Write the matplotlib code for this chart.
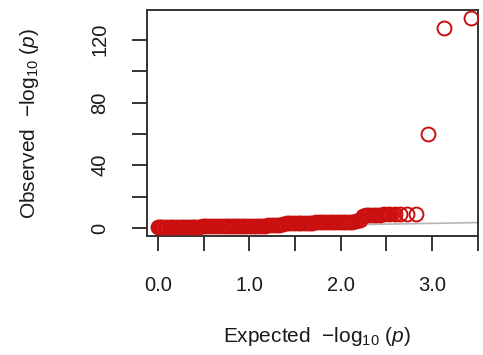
import matplotlib
matplotlib.use("Agg")
import matplotlib.pyplot as plt

# QQ plot values (expected vs observed -log10 p)
expected = [3.43, 3.13, 2.96, 2.83, 2.73, 2.65, 2.59, 2.53, 2.48, 2.43, 2.39,
            2.35, 2.31, 2.28, 2.25, 2.21, 2.17, 2.13, 2.09, 2.05, 2.01, 1.97,
            1.93, 1.89, 1.85, 1.81, 1.77, 1.73, 1.69, 1.65, 1.61, 1.57, 1.53,
            1.49, 1.45, 1.41, 1.37, 1.33, 1.29, 1.25, 1.21, 1.17, 1.13, 1.09,
            1.05, 1.01, 0.97, 0.93, 0.89, 0.85, 0.81, 0.77, 0.73, 0.69, 0.65,
            0.61, 0.57, 0.53, 0.49, 0.45, 0.41, 0.37, 0.33, 0.29, 0.25, 0.21,
            0.17, 0.13, 0.09, 0.05, 0.02, 0.00]
observed = [134.0, 127.5, 60.0, 9.2, 9.0, 9.0, 8.9, 8.8, 8.7, 8.6, 8.5,
            8.4, 8.3, 8.2, 8.0, 5.0, 4.2, 4.1, 4.0, 4.0, 3.9, 3.9,
            3.8, 3.8, 3.7, 3.7, 3.6, 3.6, 3.5, 3.5, 3.4, 3.4, 3.3,
            3.2, 3.1, 3.0, 2.4, 1.8, 1.7, 1.7, 1.7, 1.6, 1.6, 1.6,
            1.5, 1.5, 1.5, 1.4, 1.4, 1.4, 1.3, 1.3, 1.3, 1.2, 1.2,
            1.2, 1.1, 1.1, 1.1, 1.0, 1.0, 1.0, 0.9, 0.9, 0.9, 0.8,
            0.8, 0.8, 0.7, 0.7, 0.6, 0.6]
x_major = [0.0, 1.0, 2.0, 3.0]
x_minor = [0.5, 1.5, 2.5, 3.5]
y_major = [0, 40, 80, 120]
y_minor = [20, 60, 100]

plt.rcParams["font.family"] = ["Liberation Sans", "DejaVu Sans"]
plt.rcParams["mathtext.fontset"] = "custom"
plt.rcParams["mathtext.rm"] = "Liberation Sans"
plt.rcParams["mathtext.it"] = "Liberation Sans:italic"

fig = plt.figure(figsize=(4.83, 3.55), dpi=100)
ax = fig.add_axes([0.304, 0.335, 0.686, 0.637])

ax.plot([0, 3.6], [0, 3.6], color="#b5b5b5", lw=1.2, zorder=1)

# the bulk of the points overlaps into a solid band
bulk = [i for i, x in enumerate(expected) if x <= 2.6]
ax.plot([expected[i] for i in bulk], [observed[i] for i in bulk],
        color="#e01515", lw=9.5, solid_capstyle="round", zorder=2)
ax.plot(expected, observed, linestyle="none", marker="o", markersize=10,
        markerfacecolor="none", markeredgecolor="#c81010", markeredgewidth=1.4,
        zorder=3)

ax.set_xlim(-0.12, 3.505)
ax.set_ylim(-5.1, 139)

ax.set_xticks(x_major)
ax.set_xticklabels(["0.0", "1.0", "2.0", "3.0"])
ax.set_xticks(x_minor, minor=True)
ax.set_yticks(y_major)
ax.set_yticklabels([str(v) for v in y_major], rotation=90, va="center")
ax.set_yticks(y_minor, minor=True)

for s in ax.spines.values():
    s.set_linewidth(1.4)
    s.set_color("#333333")
ax.tick_params(which="both", length=11, width=1.4, color="#333333",
               labelsize=14.5, labelcolor="#1a1a1a")
ax.tick_params(axis="x", pad=18)
ax.tick_params(axis="y", pad=16)

fig.text(0.655, 0.053, r"Expected  $-\log_{10}\,(p)$", ha="center", va="center",
         fontsize=15, color="#1a1a1a")
fig.text(0.062, 0.653, r"Observed  $-\log_{10}\,(p)$", ha="center", va="center",
         rotation=90, fontsize=15, color="#1a1a1a")

fig.savefig("out.png", dpi=100)
